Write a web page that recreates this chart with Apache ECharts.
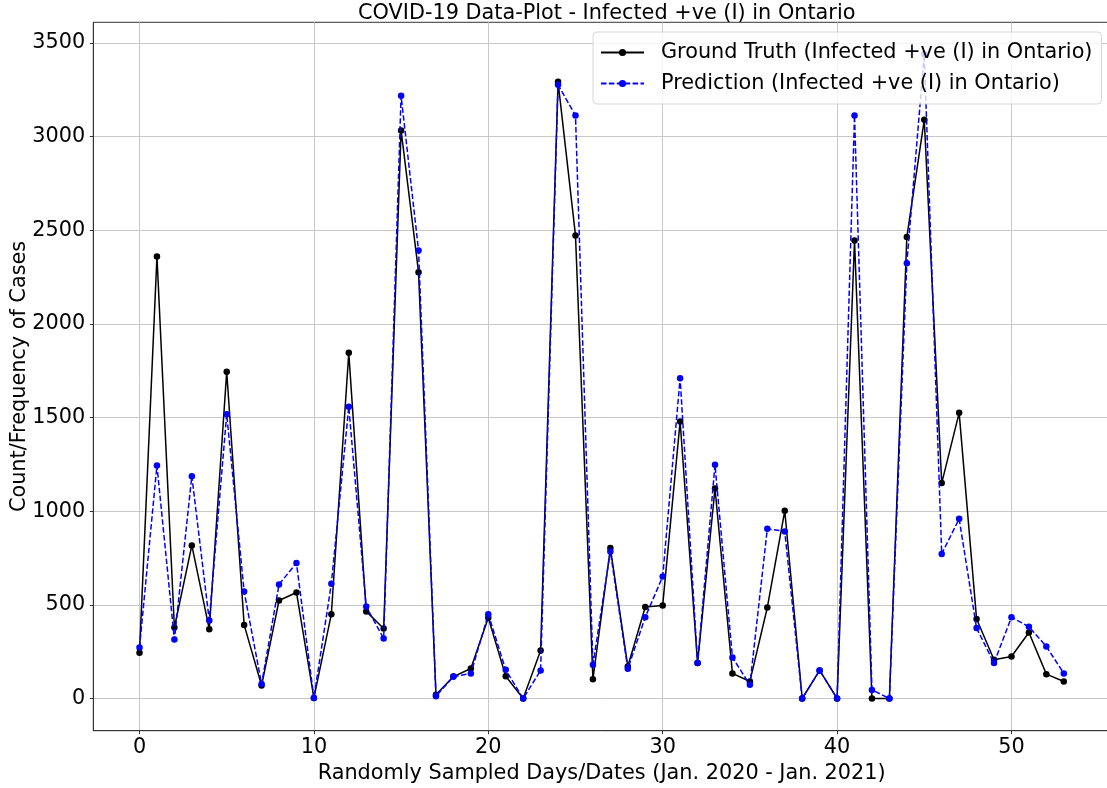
<!DOCTYPE html>
<html>
<head>
<meta charset="utf-8">
<script src="https://cdn.jsdelivr.net/npm/echarts@6/dist/echarts.min.js"></script>
<style>
html,body{margin:0;padding:0;background:#fff;}
#chart{width:1107px;height:788px;}
</style>
</head>
<body>
<div id="chart"></div>
<script>
const days = [0,1,2,3,4,5,6,7,8,9,10,11,12,13,14,15,16,17,18,19,20,21,22,23,24,25,26,27,28,29,30,31,32,33,34,35,36,37,38,39,40,41,42,43,44,45,46,47,48,49,50,51,52,53];
const groundTruth = [244,2360,379,817,370,1744,393,69,523,566,3,450,1845,465,374,3032,2276,20,117,160,431,119,0,256,3292,2472,103,803,171,488,497,1479,189,1121,134,91,486,1002,0,150,0,2445,0,0,2463,3089,1150,1525,424,207,224,352,130,91];
const prediction = [272,1244,315,1187,417,1518,571,77,609,723,3,612,1557,491,320,3217,2392,12,117,133,450,153,0,150,3276,3112,180,785,159,434,651,1710,189,1248,219,73,906,892,0,150,0,3112,46,0,2324,3440,772,959,376,189,434,383,278,134];
const xTicks = [0,10,20,30,40,50];
const yTicks = [0,500,1000,1500,2000,2500,3000,3500];
const titleText = 'COVID-19 Data-Plot - Infected +ve (I) in Ontario';
const xName = 'Randomly Sampled Days/Dates (Jan. 2020 - Jan. 2021)';
const yName = 'Count/Frequency of Cases';
const nameTruth = 'Ground Truth (Infected +ve (I) in Ontario)';
const namePred = 'Prediction (Infected +ve (I) in Ontario)';

const FONT = 'DejaVu Sans';
const FS = 20.8;
const chart = echarts.init(document.getElementById('chart'));
const axisColor = '#333333';
const gridColor = '#c8c8c8';

chart.setOption({
  animation: false,
  backgroundColor: '#ffffff',
  title: {
    text: titleText,
    left: 601.7,
    textAlign: 'center',
    top: -1.5,
    textStyle: {fontFamily: FONT, fontSize: FS, fontWeight: 'normal', color: '#000'}
  },
  legend: {
    orient: 'vertical',
    left: 593,
    top: 32,
    z: 10,
    padding: [9, 9, 9, 7],
    itemWidth: 43,
    itemHeight: 9,
    itemGap: 8,
    backgroundColor: 'rgba(255,255,255,0.8)',
    borderColor: '#d6d6d6',
    borderWidth: 1,
    borderRadius: 4,
    textStyle: {fontFamily: FONT, fontSize: FS, color: '#000', padding: [0,0,0,12], lineHeight: 23},
    data: [nameTruth, namePred]
  },
  grid: {
    left: 93.3,
    top: 22.3,
    right: -3,
    bottom: 57.3,
    containLabel: false,
    outerBoundsMode: 'none',
    show: true,
    borderColor: axisColor,
    borderWidth: 1
  },
  xAxis: {
    type: 'value',
    min: -2.65,
    max: 55.65,
    name: xName,
    nameLocation: 'middle',
    nameGap: 32,
    nameMoveOverlap: false,
    nameTextStyle: {fontFamily: FONT, fontSize: FS, color: '#000'},
    axisLine: {show: true, onZero: false, lineStyle: {color: axisColor, width: 1}},
    axisTick: {show: true, length: 3.5, inside: false, customValues: xTicks, lineStyle: {color: axisColor}},
    axisLabel: {customValues: xTicks, fontFamily: FONT, fontSize: FS, color: '#000', margin: 6, formatter: v => String(v)},
    splitLine: {show: true, lineStyle: {color: gridColor, width: 1}}
  },
  yAxis: {
    type: 'value',
    min: -171.9,
    max: 3609.6,
    name: yName,
    nameLocation: 'middle',
    nameGap: 63,
    nameRotate: 90,
    nameMoveOverlap: false,
    nameTextStyle: {fontFamily: FONT, fontSize: FS, color: '#000'},
    axisLine: {show: true, onZero: false, lineStyle: {color: axisColor, width: 1}},
    axisTick: {show: true, length: 3.5, inside: false, customValues: yTicks, lineStyle: {color: axisColor}},
    axisLabel: {customValues: yTicks, fontFamily: FONT, fontSize: FS, color: '#000', margin: 8, formatter: v => String(v)},
    splitLine: {show: true, lineStyle: {color: gridColor, width: 1}}
  },
  series: [
    {
      name: nameTruth,
      type: 'line',
      data: days.map((d, i) => [d, groundTruth[i]]),
      symbol: 'circle',
      symbolSize: 6.5,
      showAllSymbol: true,
      itemStyle: {color: '#000000'},
      lineStyle: {color: '#000000', width: 1.5},
      z: 3
    },
    {
      name: namePred,
      type: 'line',
      data: days.map((d, i) => [d, prediction[i]]),
      symbol: 'circle',
      symbolSize: 6.5,
      showAllSymbol: true,
      itemStyle: {color: '#0000ff'},
      lineStyle: {color: '#0000ff', width: 1.5, type: [5.5, 2.4]},
      z: 4
    }
  ]
});
</script>
</body>
</html>
